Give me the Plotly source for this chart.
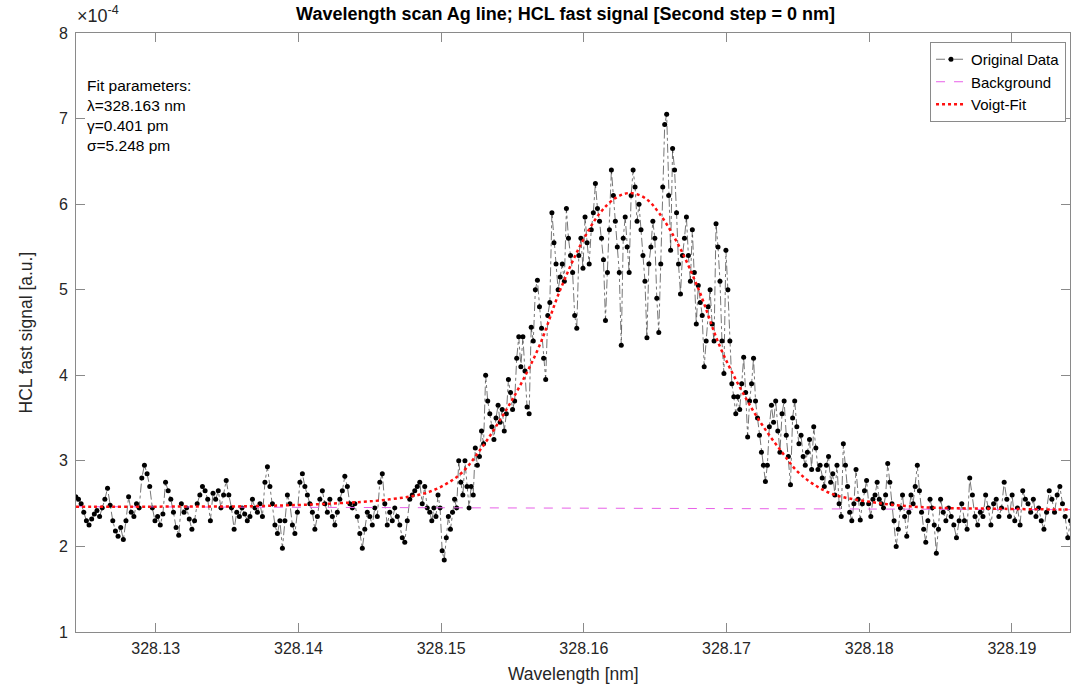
import numpy as np
import plotly.graph_objects as go

# ---------------- data (signal in units of 1e-4) ----------------
# wavelength edges of the scan sections [nm]
seg_edges = [328.1244, 328.1366, 328.1492, 328.1611, 328.1730, 328.1850, 328.1941]

seg_a = [2.58, 2.55, 2.50, 2.40, 2.30, 2.25, 2.32, 2.38, 2.42, 2.35, 2.45,
         2.55, 2.68, 2.48, 2.30, 2.18, 2.12, 2.22, 2.08, 2.30, 2.58, 2.40,
         2.35, 2.50, 2.45, 2.80, 2.95, 2.85, 2.70, 2.45, 2.30, 2.35, 2.25, 2.38,
         2.75, 2.65, 2.55, 2.40, 2.22, 2.13, 2.50, 2.40, 2.45, 2.32, 2.20, 2.30,
         2.50, 2.60, 2.70, 2.65, 2.55, 2.30, 2.62, 2.55, 2.65, 2.45,
         2.60, 2.77, 2.60, 2.45, 2.20, 2.40, 2.35, 2.45, 2.38, 2.30]

seg_b = [2.35, 2.55, 2.45, 2.40, 2.50, 2.35, 2.75, 2.93, 2.70, 2.50,
         2.25, 2.15, 2.30, 1.98, 2.30, 2.60, 2.50, 2.25, 2.15, 2.40,
         2.75, 2.85, 2.70, 2.60, 2.50, 2.40, 2.20, 2.35, 2.55, 2.65, 2.50, 2.40, 2.55,
         2.35, 2.25, 2.40, 2.55, 2.65, 2.82, 2.70, 2.50, 2.45,
         2.50, 2.35, 2.15, 1.98, 2.20, 2.40, 2.35, 2.25,
         2.45, 2.35, 2.75, 2.85, 2.50, 2.25, 2.40, 2.30, 2.45, 2.35,
         2.25, 2.10, 2.05, 2.30, 2.55, 2.60, 2.65, 2.70, 2.75, 2.50, 2.70, 2.45]

seg_c = [2.40, 2.30, 2.45, 2.35, 2.60, 2.45, 1.95, 1.84, 2.10, 2.35, 2.20, 2.40,
         2.55, 2.45, 3.00, 2.75, 2.60, 3.00, 2.70, 2.45, 2.70, 2.60,
         3.15, 2.95, 3.05, 3.35, 3.20, 4.00, 3.70, 3.55, 3.40, 3.25,
         3.50, 3.65, 3.45, 3.60, 3.35, 3.55, 3.95, 3.80, 3.60, 3.70,
         4.20, 4.45, 4.10, 4.45, 4.05, 3.63, 3.55, 4.56, 4.40,
         5.00, 5.11, 4.80, 4.55, 4.20, 3.95, 4.70, 4.85,
         5.90, 5.55, 5.30, 5.00, 5.15, 5.30, 5.10, 5.95, 5.60, 5.40, 5.20,
         4.70, 4.55, 5.40, 5.60, 5.25, 5.85, 5.55, 5.30, 5.70, 5.90, 6.24, 5.95]

seg_d = [5.80, 5.60, 5.35, 4.64, 5.20, 5.70, 6.40, 6.10, 5.80, 5.50, 5.20, 4.35,
         5.60, 5.85, 5.50, 5.20, 6.10, 6.40, 6.20, 5.80, 6.00, 5.70, 5.40,
         5.10, 4.44, 5.30, 5.50, 5.80, 5.60, 4.90, 4.50, 5.30,
         6.20, 6.93, 7.05, 6.10, 5.46, 6.65, 6.40, 5.90, 5.30, 4.95, 5.40,
         5.60, 5.85, 5.40, 5.10, 5.70, 5.20, 4.60, 5.05, 4.85, 4.70,
         4.10, 4.40, 4.80, 5.00, 4.60, 4.40, 5.77, 5.50, 5.10, 4.40, 4.02,
         5.46, 5.00, 4.40, 3.90, 3.75, 3.55, 3.75, 3.60, 3.90,
         4.21, 3.80, 3.28, 3.70, 3.90, 4.20, 3.70, 3.50, 3.30, 3.10, 2.95, 2.76, 2.95]

seg_e = [3.40, 3.65, 3.45, 3.70, 3.35, 3.10, 3.55, 3.70, 3.30, 3.05, 2.72,
         3.50, 3.70, 3.40, 3.20, 3.30, 3.05, 2.95, 3.10, 3.25, 2.90,
         3.40, 3.15, 2.90, 2.95, 2.80, 2.70, 2.95, 3.05, 2.75, 2.85, 2.60, 2.95,
         2.50, 2.35, 3.20, 2.95, 2.70, 2.40, 2.30, 2.50, 2.90, 2.55, 2.31,
         2.50, 2.65, 2.77, 2.50, 2.35, 2.55, 2.60, 2.75, 2.55, 2.50, 2.45, 2.60,
         2.97, 2.75, 2.50, 2.30, 2.00, 2.20, 2.45, 2.60, 2.35, 2.12, 2.40, 2.60,
         2.50, 2.70, 2.95, 2.65, 2.40, 2.20, 2.05, 2.30, 2.55, 2.45, 2.25, 1.92, 2.20]

seg_f = [2.55, 2.40, 2.30, 2.45, 2.35, 2.25, 2.10, 2.30, 2.50, 2.30, 2.20,
         2.80, 2.60, 2.35, 2.25, 2.40, 2.35, 2.60, 2.45, 2.25,
         2.50, 2.55, 2.35, 2.45, 2.75, 2.55, 2.35, 2.60, 2.30, 2.45, 2.25,
         2.65, 2.55, 2.50, 2.40, 2.55, 2.35, 2.45, 2.30, 2.20, 2.40,
         2.65, 2.55, 2.40, 2.60, 2.70, 2.50, 2.35, 2.10, 2.30]

# Voigt fit curve samples
fit_wl = [328.1244, 328.1296, 328.1366, 328.1422, 328.1464, 328.1492, 328.1513,
          328.1527, 328.1541, 328.1555, 328.1569, 328.1583, 328.1597, 328.1611,
          328.1622, 328.1632, 328.1643, 328.1653, 328.1667, 328.1681, 328.1695,
          328.1709, 328.1723, 328.1738, 328.1752, 328.1773, 328.1801, 328.1836,
          328.1892, 328.1941]
fit_val = [2.465, 2.465, 2.47, 2.50, 2.55, 2.64, 2.84, 3.12, 3.47, 3.87, 4.35,
           4.98, 5.50, 5.89, 6.07, 6.13, 6.07, 5.89, 5.50, 4.98, 4.35, 3.87,
           3.47, 3.12, 2.84, 2.62, 2.52, 2.46, 2.44, 2.43]

# background line
bg_wl = [328.1244, 328.1941]
bg_val = [2.465, 2.43]

x_ticks = [328.13, 328.14, 328.15, 328.16, 328.17, 328.18, 328.19]
y_ticks = [1, 2, 3, 4, 5, 6, 7, 8]

# ---------------- build wavelength grid for the scan ----------------
segs = [seg_a, seg_b, seg_c, seg_d, seg_e, seg_f]
data_wl, data_val = [], []
for i, vals in enumerate(segs):
    last = i == len(segs) - 1
    data_wl.extend(np.linspace(seg_edges[i], seg_edges[i + 1], len(vals), endpoint=last))
    data_val.extend(vals)

FONT = "Liberation Sans, Arial, sans-serif"
TXT = "#262626"
AX = "#8a8a8a"

fig = go.Figure()
fig.add_trace(go.Scatter(
    x=data_wl, y=data_val, mode="lines+markers", name="Original Data",
    line=dict(color="rgba(0,0,0,0.6)", width=0.9, dash="dashdot"),
    marker=dict(color="black", size=5),
))
fig.add_trace(go.Scatter(
    x=bg_wl, y=bg_val, mode="lines", name="Background",
    line=dict(color="#e860e8", width=1, dash="dash"),
))
fig.add_trace(go.Scatter(
    x=fit_wl, y=fit_val, mode="lines", name="Voigt-Fit",
    line=dict(color="#ff1010", width=2.5, dash="dot", shape="spline", smoothing=1.0),
))

axis_common = dict(
    showline=True, linecolor=AX, linewidth=1, mirror="ticks",
    ticks="inside", ticklen=9, tickcolor=AX, tickwidth=1,
    showgrid=False, zeroline=False,
    tickfont=dict(family=FONT, size=16, color=TXT),
)
fig.update_xaxes(range=[328.12441, 328.19407], tickvals=x_ticks,
                 ticktext=[f"{v:.2f}" for v in x_ticks], ticklabelstandoff=2,
                 **axis_common)
fig.update_yaxes(range=[1, 8], tickvals=y_ticks,
                 ticktext=[str(v) for v in y_ticks], ticklabelstandoff=4,
                 **axis_common)

fig.update_layout(
    width=1071, height=686,
    margin=dict(l=76, r=1, t=33, b=54),
    paper_bgcolor="white", plot_bgcolor="white",
    showlegend=True,
    legend=dict(x=0.996, y=0.985, xanchor="right", yanchor="top",
                bgcolor="white", bordercolor=AX, borderwidth=1,
                font=dict(family=FONT, size=15, color="black"),
                tracegroupgap=0),
    title=dict(text="<b>Wavelength scan Ag line; HCL fast signal [Second step = 0 nm]</b>",
               x=0.4925, xref="paper", xanchor="center",
               y=1 - 14 / 686, yref="container", yanchor="middle",
               font=dict(family=FONT, size=18, color="black")),
    annotations=[
        dict(text="Wavelength [nm]", xref="paper", yref="paper", x=0.5, y=-(674 - 632) / 599,
             xanchor="center", yanchor="middle", showarrow=False,
             font=dict(family=FONT, size=17.5, color=TXT)),
        dict(text="HCL fast signal [a.u.]", xref="paper", yref="paper",
             x=-(76 - 25) / 994, y=0.5, textangle=-90,
             xanchor="center", yanchor="middle", showarrow=False,
             font=dict(family=FONT, size=17.5, color=TXT)),
        dict(text="×10<sup>-4</sup>", xref="paper", yref="paper",
             x=-0.001, y=(632 - 15) / 599, xanchor="left", yanchor="middle",
             showarrow=False, font=dict(family=FONT, size=18, color=TXT)),
        dict(text="Fit parameters:<br>λ=328.163 nm<br>γ=0.401 pm<br>σ=5.248 pm",
             xref="paper", yref="paper", x=(85 - 76) / 994, y=(632 - 75) / 599,
             xanchor="left", yanchor="top", align="left", showarrow=False,
             font=dict(family=FONT, size=15.5, color="black")),
    ],
)

fig.write_html("out.html")
